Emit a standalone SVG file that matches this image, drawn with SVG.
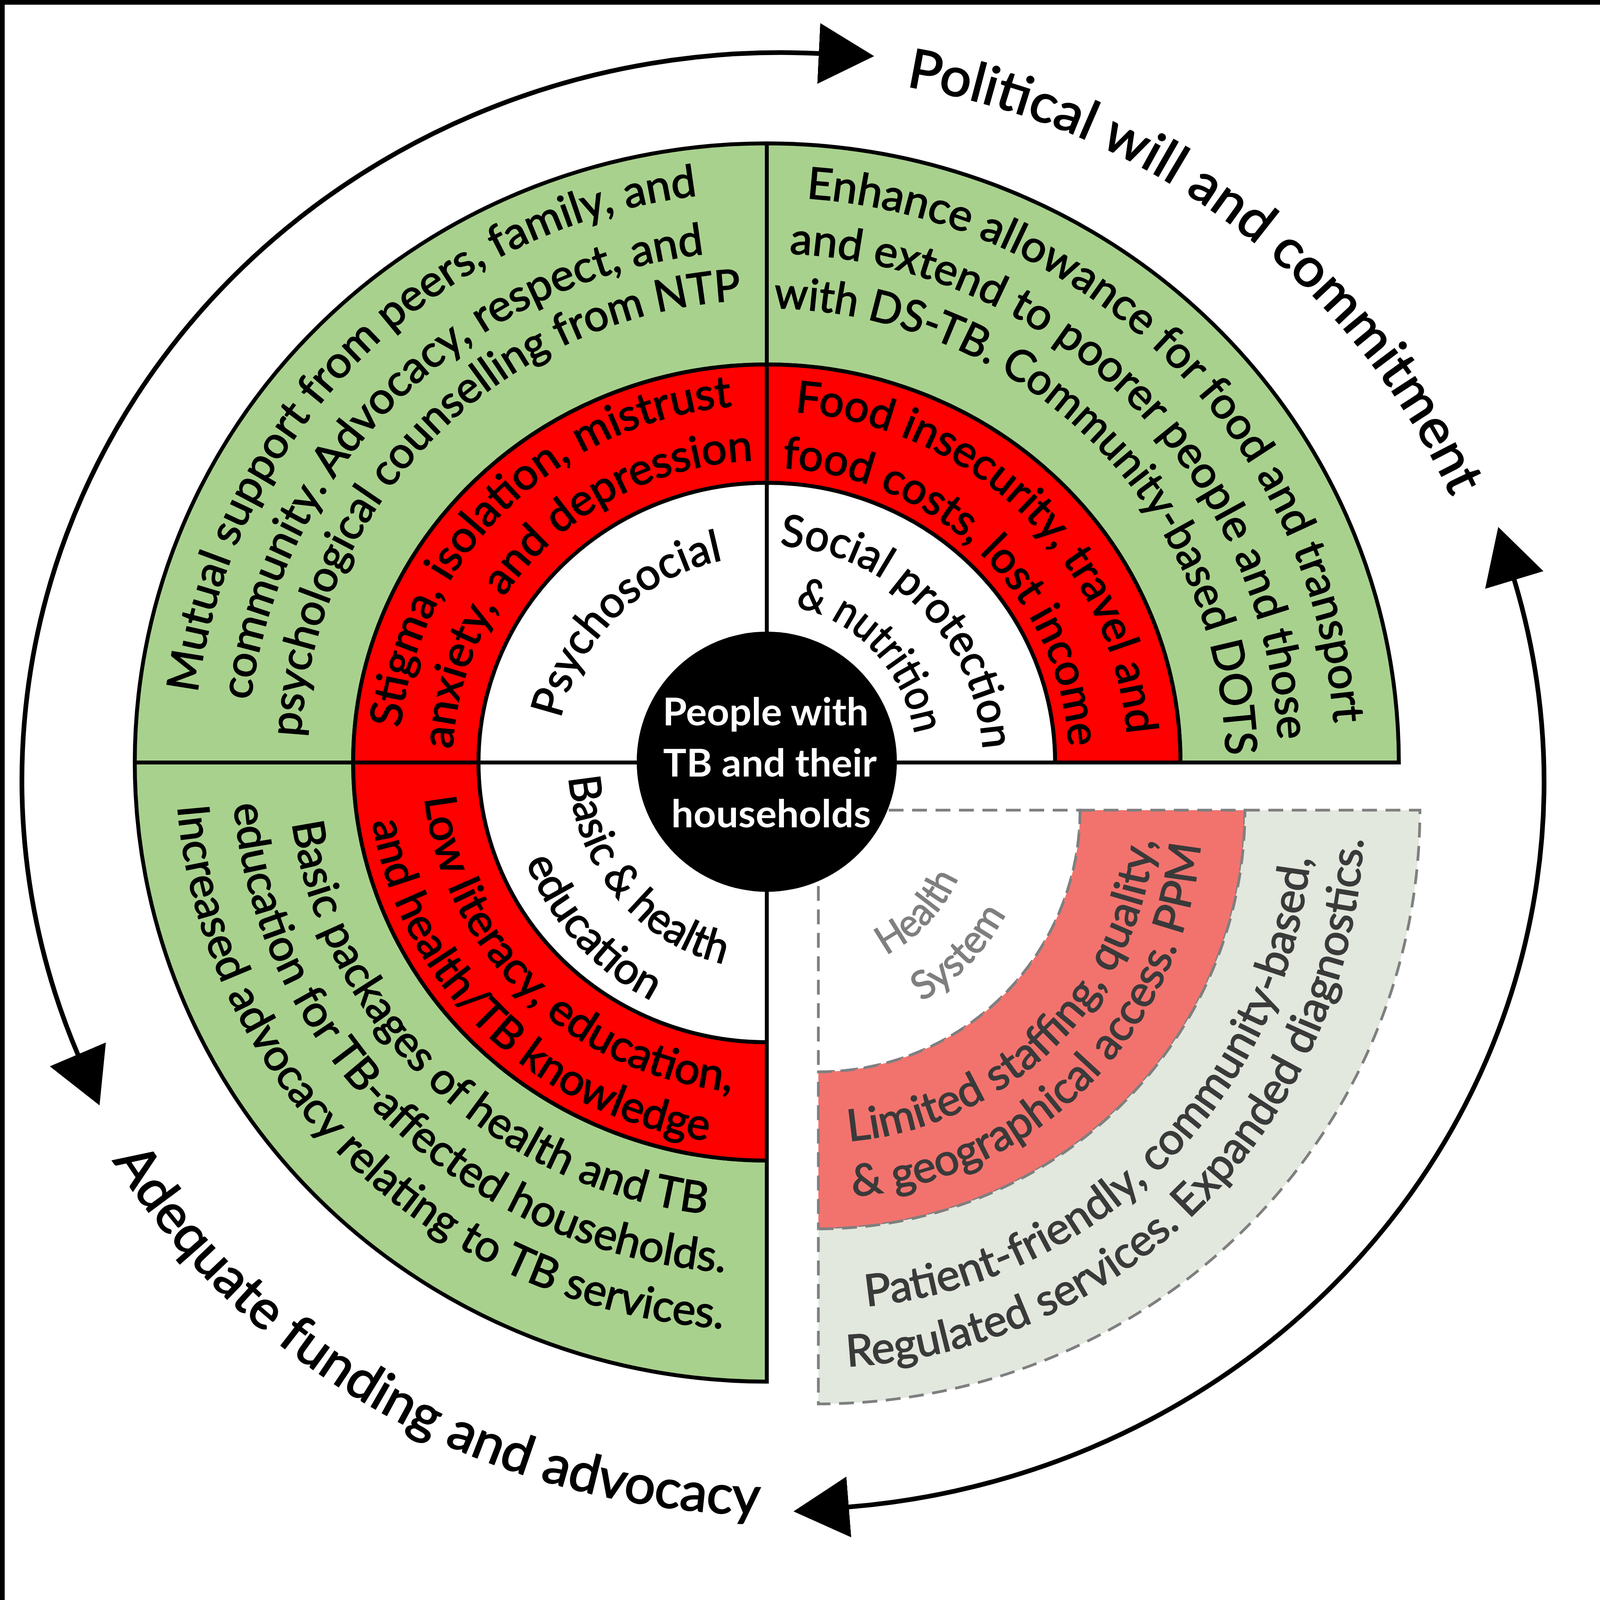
<svg xmlns="http://www.w3.org/2000/svg" width="4196" height="4649" viewBox="0 0 4196 4649">
<style>
.q { font-family: Lato, 'Open Sans', 'Liberation Sans', sans-serif; font-size: 112px; fill: #000; stroke: #000; stroke-width: 2.5px; }
.hs { font-family: Lato, 'Open Sans', 'Liberation Sans', sans-serif; font-size: 100px; fill: #7F7F7F; stroke: #7F7F7F; stroke-width: 2px; }
.hd { font-family: Lato, 'Open Sans', 'Liberation Sans', sans-serif; font-size: 112px; fill: #3A3A3A; stroke: #3A3A3A; stroke-width: 2.5px; }
.big { font-family: Lato, 'Open Sans', 'Liberation Sans', sans-serif; font-size: 138px; fill: #000; stroke: #000; stroke-width: 3px; }
.ctr { font-family: Lato, 'Open Sans', 'Liberation Sans', sans-serif; font-size: 98px; font-weight: bold; fill: #fff; }
.cap { font-family: Lato, 'Open Sans', 'Liberation Sans', sans-serif; font-size: 91px; font-style: italic; fill: #000; }
.ring { stroke: #000; stroke-width: 10; stroke-linejoin: miter; }
.g { fill: #A9D18E; }
.r { fill: #FF0000; }
.w { fill: #FFFFFF; }
.dash { stroke: #7F7F7F; stroke-width: 7; stroke-dasharray: 38 22; }
.arrow { fill: none; stroke: #000; stroke-width: 12; marker-start: url(#ah); marker-end: url(#ah); }
</style>
<defs>
<marker id="ah" markerUnits="userSpaceOnUse" markerWidth="145" markerHeight="160" viewBox="0 0 145 160" refX="2" refY="80" orient="auto-start-reverse">
<path d="M0,2 L142,80 L0,158 Z" fill="#000"/>
</marker>
<path id="tl1" d="M 495 1952 A 1468 1462 0 0 1 1963 490"/>
<path id="tl2" d="M 632 1952 A 1331 1311 0 0 1 1963 641"/>
<path id="tl3" d="M 768 1952 A 1195 1185 0 0 1 1963 767"/>
<path id="tlr1" d="M 1021 1952 A 942 916 0 0 1 1963 1036"/>
<path id="tlr2" d="M 1158 1952 A 805 774 0 0 1 1963 1178"/>
<path id="tlw" d="M 1423 1952 A 540 530 0 0 1 1963 1422"/>
<path id="tr1" d="M 1963 504 A 1455 1448 0 0 1 3418 1952"/>
<path id="tr2" d="M 1963 648 A 1310 1304 0 0 1 3273 1952"/>
<path id="tr3" d="M 1963 789 A 1175 1163 0 0 1 3138 1952"/>
<path id="trr1" d="M 1963 1052 A 925 900 0 0 1 2888 1952"/>
<path id="trr2" d="M 1963 1197 A 774 755 0 0 1 2737 1952"/>
<path id="trw1" d="M 1963 1396 A 554 556 0 0 1 2517 1952"/>
<path id="trw2" d="M 1963 1547 A 385 405 0 0 1 2348 1952"/>
<path id="bl1" d="M 737 1952 A 1226 1165 0 0 0 1963 3117"/>
<path id="bl2" d="M 594 1952 A 1369 1309 0 0 0 1963 3261"/>
<path id="bl3" d="M 450 1952 A 1513 1453 0 0 0 1963 3405"/>
<path id="blr1" d="M 1082 1952 A 881 846 0 0 0 1963 2798"/>
<path id="blr2" d="M 941 1952 A 1022 979 0 0 0 1963 2931"/>
<path id="blw1" d="M 1455 1952 A 508 528 0 0 0 1963 2480"/>
<path id="blw2" d="M 1298 1952 A 665 680 0 0 0 1963 2632"/>
<path id="lrh1" d="M 2095 2486 A 395 412 0 0 0 2490 2074"/>
<path id="lrh2" d="M 2095 2634 A 545 560 0 0 0 2640 2074"/>
<path id="lrp1" d="M 2095 2925 A 863 851 0 0 0 2958 2074"/>
<path id="lrp2" d="M 2095 3067 A 982 993 0 0 0 3077 2074"/>
<path id="lrg1" d="M 2095 3350 A 1265 1276 0 0 0 3360 2074"/>
<path id="lrg2" d="M 2095 3500 A 1397 1426 0 0 0 3492 2074"/>
<path id="pol" d="M 2319 221 A 1869 1802 0 0 1 3845 1684"/>
<path id="adq" d="M 288 2971 A 1990 1880 0 0 0 2349 3848"/>
</defs>

<rect x="0" y="0" width="4196" height="4649" fill="#FFFFFF"/>
<rect x="6" y="6" width="4184" height="4637" fill="none" stroke="#000" stroke-width="12"/>

<g id="quadrant-psychosocial">
<path class="g ring" d="M 345 1952 A 1618 1585 0 0 1 1963 367 L 1963 933 A 1059 1019 0 0 0 904 1952 Z"/>
<path class="r ring" d="M 904 1952 A 1059 1019 0 0 1 1963 933 L 1963 1236 A 738 716 0 0 0 1225 1952 Z"/>
<path class="w ring" d="M 1225 1952 A 738 716 0 0 1 1963 1236 L 1963 1952 Z"/>
<text class="q" text-anchor="middle"><textPath href="#tl1" startOffset="50%" textLength="1946" lengthAdjust="spacingAndGlyphs">Mutual support from peers, family, and</textPath></text>
<text class="q" text-anchor="middle"><textPath href="#tl2" startOffset="50%" textLength="1756" lengthAdjust="spacingAndGlyphs">community. Advocacy, respect, and</textPath></text>
<text class="q" text-anchor="middle"><textPath href="#tl3" startOffset="50%" textLength="1739" lengthAdjust="spacingAndGlyphs">psychological counselling from NTP</textPath></text>
<text class="q" text-anchor="middle"><textPath href="#tlr1" startOffset="50%" textLength="1282" lengthAdjust="spacingAndGlyphs">Stigma, isolation, mistrust</textPath></text>
<text class="q" text-anchor="middle"><textPath href="#tlr2" startOffset="50%" textLength="1171" lengthAdjust="spacingAndGlyphs">anxiety, and depression</textPath></text>
<text class="q" text-anchor="middle"><textPath href="#tlw" startOffset="50%" textLength="615" lengthAdjust="spacingAndGlyphs">Psychosocial</textPath></text>
</g>

<g id="quadrant-social-protection">
<path class="g ring" d="M 1963 367 A 1618 1585 0 0 1 3581 1952 L 3022 1952 A 1059 1019 0 0 0 1963 933 Z"/>
<path class="r ring" d="M 1963 933 A 1059 1019 0 0 1 3022 1952 L 2701 1952 A 738 716 0 0 0 1963 1236 Z"/>
<path class="w ring" d="M 1963 1236 A 738 716 0 0 1 2701 1952 L 1963 1952 Z"/>
<text class="q" text-anchor="middle"><textPath href="#tr1" startOffset="50%" textLength="2078" lengthAdjust="spacingAndGlyphs">Enhance allowance for food and transport</textPath></text>
<text class="q" text-anchor="middle"><textPath href="#tr2" startOffset="50%" textLength="1937" lengthAdjust="spacingAndGlyphs">and extend to poorer people and those</textPath></text>
<text class="q" text-anchor="middle"><textPath href="#tr3" startOffset="50%" textLength="1800" lengthAdjust="spacingAndGlyphs">with DS-TB. Community-based DOTS</textPath></text>
<text class="q" text-anchor="middle"><textPath href="#trr1" startOffset="50%" textLength="1290" lengthAdjust="spacingAndGlyphs">Food insecurity, travel and</textPath></text>
<text class="q" text-anchor="middle"><textPath href="#trr2" startOffset="50%" textLength="1120" lengthAdjust="spacingAndGlyphs">food costs, lost income</textPath></text>
<text class="q" text-anchor="middle"><textPath href="#trw1" startOffset="50%" textLength="805" lengthAdjust="spacingAndGlyphs">Social protection</textPath></text>
<text class="q" text-anchor="middle"><textPath href="#trw2" startOffset="50%" textLength="475" lengthAdjust="spacingAndGlyphs">&amp; nutrition</textPath></text>
</g>

<g id="quadrant-education">
<path class="g ring" d="M 345 1952 A 1618 1585 0 0 0 1963 3537 L 1963 2971 A 1059 1019 0 0 1 904 1952 Z"/>
<path class="r ring" d="M 904 1952 A 1059 1019 0 0 0 1963 2971 L 1963 2668 A 738 716 0 0 1 1225 1952 Z"/>
<path class="w ring" d="M 1225 1952 A 738 716 0 0 0 1963 2668 L 1963 1952 Z"/>
<text class="q" text-anchor="middle"><textPath href="#bl1" startOffset="50%" textLength="1567" lengthAdjust="spacingAndGlyphs">Basic packages of health and TB</textPath></text>
<text class="q" text-anchor="middle"><textPath href="#bl2" startOffset="50%" textLength="1889" lengthAdjust="spacingAndGlyphs">education for TB-affected households.</textPath></text>
<text class="q" text-anchor="middle"><textPath href="#bl3" startOffset="50%" textLength="2105" lengthAdjust="spacingAndGlyphs">Increased advocacy relating to TB services.</textPath></text>
<text class="q" text-anchor="middle"><textPath href="#blr1" startOffset="50%" textLength="1175" lengthAdjust="spacingAndGlyphs">Low literacy, education,</textPath></text>
<text class="q" text-anchor="middle"><textPath href="#blr2" startOffset="50%" textLength="1267" lengthAdjust="spacingAndGlyphs">and health/TB knowledge</textPath></text>
<text class="q" text-anchor="middle"><textPath href="#blw1" startOffset="45.5%" textLength="665" lengthAdjust="spacingAndGlyphs">Basic &amp; health</textPath></text>
<text class="q" text-anchor="middle"><textPath href="#blw2" startOffset="47.8%" textLength="490" lengthAdjust="spacingAndGlyphs">education</textPath></text>
</g>

<g id="quadrant-health-system">
<path class="w dash" d="M 2095 2074 L 2765 2074 A 670 670 0 0 1 2095 2744 Z"/>
<path class="dash" fill="#F2736E" d="M 2765 2074 L 3187 2074 A 1092 1072 0 0 1 2095 3146 L 2095 2744 A 670 670 0 0 0 2765 2074 Z"/>
<path class="dash" fill="#E2E8DE" d="M 3187 2074 L 3635 2074 A 1540 1520 0 0 1 2095 3594 L 2095 3146 A 1092 1072 0 0 0 3187 2074 Z"/>
<text class="hs" text-anchor="middle"><textPath href="#lrh1" startOffset="50%" textLength="276" lengthAdjust="spacingAndGlyphs">Health</textPath></text>
<text class="hs" text-anchor="middle"><textPath href="#lrh2" startOffset="50%" textLength="315" lengthAdjust="spacingAndGlyphs">System</textPath></text>
<text class="hd" text-anchor="middle"><textPath href="#lrp1" startOffset="50%" textLength="1191" lengthAdjust="spacingAndGlyphs">Limited staffing, quality,</textPath></text>
<text class="hd" text-anchor="middle"><textPath href="#lrp2" startOffset="50%" textLength="1374" lengthAdjust="spacingAndGlyphs">&amp; geographical access. PPM</textPath></text>
<text class="hd" text-anchor="middle"><textPath href="#lrg1" startOffset="50%" textLength="1750" lengthAdjust="spacingAndGlyphs">Patient-friendly, community-based,</textPath></text>
<text class="hd" text-anchor="middle"><textPath href="#lrg2" startOffset="50%" textLength="2070" lengthAdjust="spacingAndGlyphs">Regulated services. Expanded diagnostics.</textPath></text>
</g>

<g id="center">
<circle cx="1963" cy="1950" r="333" fill="#000"/>
<text class="ctr" x="1960" y="1857" text-anchor="middle" textLength="527" lengthAdjust="spacingAndGlyphs">People with</text>
<text class="ctr" x="1971" y="1988" text-anchor="middle" textLength="547" lengthAdjust="spacingAndGlyphs">TB and their</text>
<text class="ctr" x="1974" y="2118" text-anchor="middle" textLength="511" lengthAdjust="spacingAndGlyphs">households</text>
</g>

<g id="connectors">
<path class="arrow" d="M 200 2701 A 1944 1863 0 0 1 2098 137"/>
<path class="arrow" d="M 3876 1483 A 1944 1863 0 0 1 2171 3858"/>
</g>

<g id="outer-labels">
<text class="big"><textPath href="#pol" textLength="1820" lengthAdjust="spacingAndGlyphs">Political will and commitment</textPath></text>
<text class="big"><textPath href="#adq" textLength="1966" lengthAdjust="spacingAndGlyphs">Adequate funding and advocacy</textPath></text>
</g>

<g id="caption">
<text class="cap" x="28" y="4197" textLength="4108" lengthAdjust="spacingAndGlyphs">Broad categories of the factors associated with accessing TB services are shown in white, barriers in</text>
<text class="cap" x="28" y="4320" textLength="4108" lengthAdjust="spacingAndGlyphs">red, and facilitators in green. Health system barriers and facilitators in the lower right quadrant have</text>
<text class="cap" x="28" y="4443" textLength="4094" lengthAdjust="spacingAndGlyphs">been separated because the ASCOT intervention was focused on TB-affected household level and not</text>
<text class="cap" x="28" y="4561" textLength="1753" lengthAdjust="spacingAndGlyphs">intended to influence health system factors.</text>
</g>
</svg>
